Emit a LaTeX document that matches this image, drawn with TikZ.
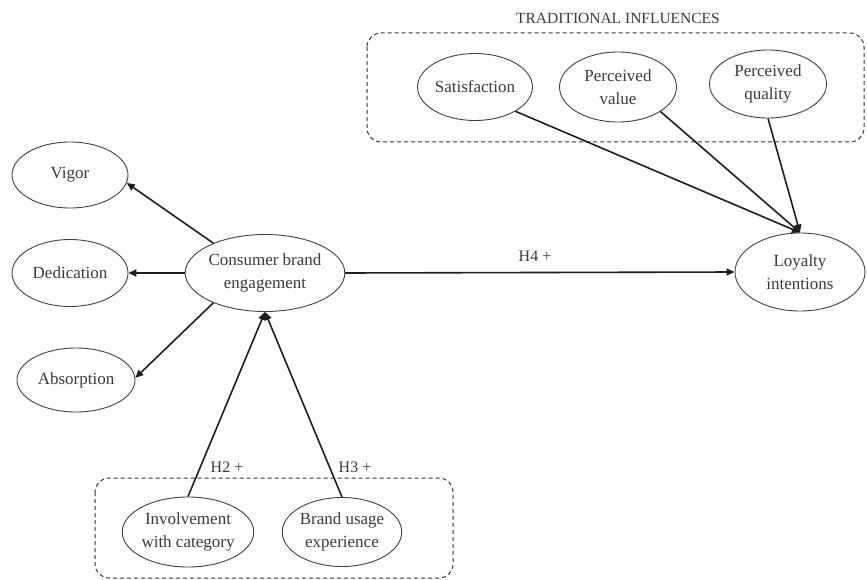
\documentclass[tikz,border=0pt]{standalone}
\usepackage{fontspec}
\setmainfont{Liberation Serif}
\usetikzlibrary{shapes.geometric,arrows.meta}
\definecolor{txt}{HTML}{3A3A3A}
\definecolor{ln}{HTML}{1E1E1E}
\tikzset{
  oval/.style={draw=ln!85, line width=0.9pt, ellipse, inner sep=0pt, align=center,
     font=\fontsize{17}{23}\selectfont, text=txt},
  link/.style={draw=ln, line width=1.6pt, -{Triangle[length=8pt,width=7pt]}},
  group/.style={draw=ln!90, line width=1pt, dash pattern=on 4pt off 3pt, rounded corners=14pt},
  lbl/.style={font=\fontsize{16}{19}\selectfont, text=txt, inner sep=0pt}
}
\begin{document}
\begin{tikzpicture}[x=1pt,y=-1pt]
\useasboundingbox (0,0) rectangle (867,580);
% groups
\draw[group] (367,33) rectangle (864,142);
\draw[group] (95,478) rectangle (453,578);
\node[lbl, font=\fontsize{15.5}{18}\selectfont] (trad) at (618,18) {TRADITIONAL INFLUENCES};
% nodes
\node[oval, minimum width=116pt, minimum height=66pt] (vig) at (70,175) {Vigor};
\node[oval, minimum width=116pt, minimum height=67pt] (ded) at (70,273) {Dedication};
\node[oval, minimum width=118pt, minimum height=64pt] (abs) at (76,380) {Absorption};
\node[oval, minimum width=140pt, minimum height=77pt] (cbe) at (265,273) {Consumer brand\\engagement};
\node[oval, minimum width=130pt, minimum height=78pt] (loy) at (800,272) {Loyalty\\intentions};
\node[oval, minimum width=115pt, minimum height=67pt] (sat) at (475,87) {Satisfaction};
\node[oval, minimum width=117pt, minimum height=70pt] (pv) at (618,87) {Perceived\\value};
\node[oval, minimum width=117pt, minimum height=68pt] (pq) at (768,84) {Perceived\\quality};
\node[oval, minimum width=127pt, minimum height=70pt] (inv) at (188,532) {Involvement\\with category};
\node[oval, minimum width=119pt, minimum height=69pt] (bu) at (342,532) {Brand usage\\experience};
% connectors
\draw[link] (cbe.150) -- (vig.-8);
\draw[link] (cbe.west) -- (ded.east);
\draw[link] (cbe.210) -- (abs.2);
\draw[link] (cbe.east) -- (loy.west);
\node[lbl] (h4) at (535,256) {H4 +};
\draw[link] (inv.north) -- (cbe.south);
\draw[link] (bu.north) -- (cbe.south);
\draw[link] (sat.-31) -- (loy.north);
\draw[link] (pv.-30) -- (loy.north);
\draw[link] (pq.south) -- (loy.north);
\node[lbl] (h2) at (227,467) {H2 +};
\node[lbl] (h3) at (355,467) {H3 +};
\end{tikzpicture}
\end{document}
